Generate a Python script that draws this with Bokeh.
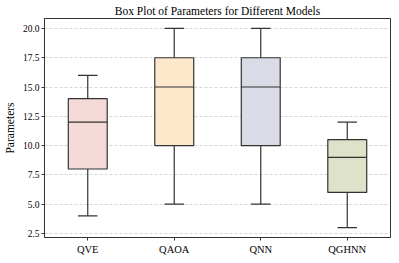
from bokeh.plotting import figure
from bokeh.models import Range1d, FixedTicker, NumeralTickFormatter, ColumnDataSource
from bokeh.embed import file_html
from bokeh.resources import INLINE

models = ["QVE", "QAOA", "QNN", "QGHNN"]
whisker_low = [4, 5, 5, 3]
q1 = [8, 10, 10, 6]
median = [12, 15, 15, 9]
q3 = [14, 17.5, 17.5, 10.5]
whisker_high = [16, 20, 20, 12]
colors = ["#f5d9d6", "#fde8cb", "#d9dbe7", "#dde2c8"]
y_ticks = [2.5, 5.0, 7.5, 10.0, 12.5, 15.0, 17.5, 20.0]

FONT = "Liberation Serif"
EDGE = "#333333"
box_w = 0.45
cap_w = box_w / 2

xs = list(range(1, len(models) + 1))
src = ColumnDataSource(dict(
    x=xs, lo=whisker_low, q1=q1, med=median, q3=q3, hi=whisker_high, color=colors,
    bl=[x - box_w / 2 for x in xs], br=[x + box_w / 2 for x in xs],
    cl=[x - cap_w / 2 for x in xs], cr=[x + cap_w / 2 for x in xs],
))

p = figure(frame_width=346, frame_height=219, output_backend="svg", toolbar_location=None,
           x_range=Range1d(0.5, 4.5), y_range=Range1d(2.15, 20.85),
           title="Box Plot of Parameters for Different Models",
           min_border_left=2, min_border_right=2, min_border_top=0, min_border_bottom=0)

p.title.text_font = FONT
p.title.text_font_size = "11.5px"
p.title.text_font_style = "normal"
p.title.align = "center"
p.title.text_color = "black"
p.title.standoff = 4

# whiskers
p.segment(x0="x", y0="lo", x1="x", y1="q1", source=src, line_color=EDGE, line_width=1.2)
p.segment(x0="x", y0="q3", x1="x", y1="hi", source=src, line_color=EDGE, line_width=1.2)
# caps
p.segment(x0="cl", y0="lo", x1="cr", y1="lo", source=src, line_color=EDGE, line_width=1.2)
p.segment(x0="cl", y0="hi", x1="cr", y1="hi", source=src, line_color=EDGE, line_width=1.2)
# boxes
p.vbar(x="x", width=box_w, bottom="q1", top="q3", source=src, fill_color="color",
       line_color=EDGE, line_width=1.2)
# medians
p.segment(x0="bl", y0="med", x1="br", y1="med", source=src, line_color=EDGE, line_width=1.2)

p.xaxis.ticker = FixedTicker(ticks=xs)
p.xaxis.major_label_overrides = {x: m for x, m in zip(xs, models)}
p.yaxis.ticker = FixedTicker(ticks=y_ticks)
p.yaxis.formatter = NumeralTickFormatter(format="0.0")
p.yaxis.axis_label = "Parameters"

for ax in (p.xaxis[0], p.yaxis[0]):
    ax.major_label_text_font = FONT
    ax.major_label_text_color = "black"
    ax.axis_line_color = EDGE
    ax.major_tick_line_color = EDGE
    ax.major_tick_out = 3
    ax.major_tick_in = 0
    ax.minor_tick_line_color = None
    ax.major_label_standoff = 2
p.xaxis.major_label_standoff = 3
p.xaxis.major_label_text_font_size = "10.5px"
p.yaxis.major_label_text_font_size = "9.5px"
p.yaxis.axis_label_text_font = FONT
p.yaxis.axis_label_text_font_size = "11.5px"
p.yaxis.axis_label_text_font_style = "normal"
p.yaxis.axis_label_text_color = "black"
p.yaxis.axis_label_standoff = 4

p.xgrid.grid_line_color = None
p.ygrid.grid_line_color = "#cccccc"
p.ygrid.grid_line_dash = "3 2"
p.ygrid.grid_line_width = 0.8

p.outline_line_color = EDGE
p.outline_line_width = 1
p.background_fill_color = "white"
p.border_fill_color = "white"

open("out.html", "w").write(file_html(p, INLINE))
